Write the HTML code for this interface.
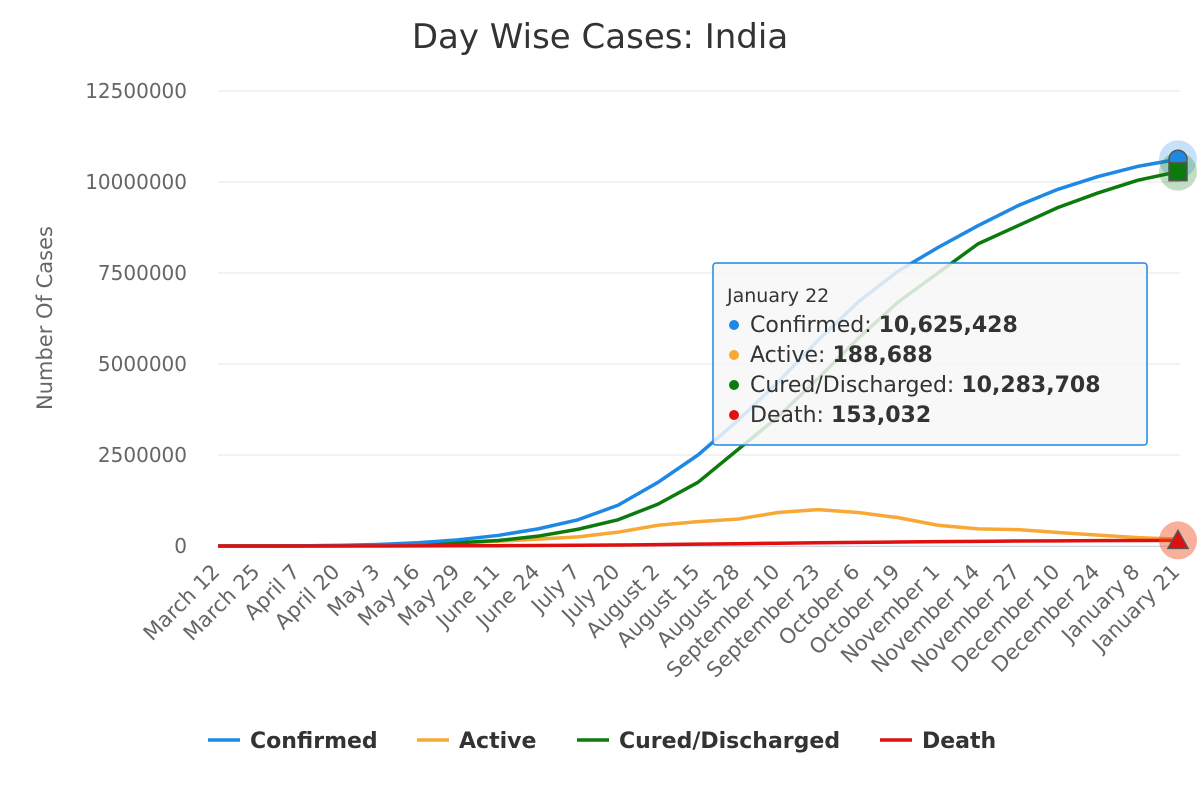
<!DOCTYPE html>
<html><head><meta charset="utf-8"><style>
body{margin:0;background:#fff;font-family:"Liberation Sans","DejaVu Sans",sans-serif}
svg{display:block}
</style></head><body>
<svg id="chart" width="1200" height="800">
<text x="600" y="48" text-anchor="middle" font-size="34" fill="#333" font-family="DejaVu Sans, sans-serif">Day Wise Cases: India</text>
<text transform="translate(52,318) rotate(-90)" text-anchor="middle" font-size="21" fill="#666" font-family="DejaVu Sans, sans-serif">Number Of Cases</text>
<g id="grid"></g><g id="xlabels"></g><g id="series"></g><g id="markers"></g>
<g>
<rect x="713" y="263" width="434" height="182" rx="3" fill="#f7f7f7" fill-opacity="0.85" stroke="#1e88e5" stroke-width="1.5"/>
<text x="727" y="302" font-size="19" fill="#333" font-family="DejaVu Sans, sans-serif">January 22</text>
<g font-size="22" fill="#333" font-family="DejaVu Sans, sans-serif">
<circle cx="734" cy="325" r="5" fill="#1e88e5"/><text x="750" y="332">Confirmed: <tspan font-weight="bold">10,625,428</tspan></text>
<circle cx="734" cy="355" r="5" fill="#f7a835"/><text x="750" y="362">Active: <tspan font-weight="bold">188,688</tspan></text>
<circle cx="734" cy="385" r="5" fill="#0d7a0d"/><text x="750" y="392">Cured/Discharged: <tspan font-weight="bold">10,283,708</tspan></text>
<circle cx="734" cy="415" r="5" fill="#e0100e"/><text x="750" y="422">Death: <tspan font-weight="bold">153,032</tspan></text>
</g></g>
<g font-size="22" font-weight="bold" fill="#333" font-family="DejaVu Sans, sans-serif">
<g><line x1="208" y1="740" x2="240" y2="740" stroke="#1e88e5" stroke-width="3.5"/><text x="250" y="748">Confirmed</text></g>
<g><line x1="417" y1="740" x2="449" y2="740" stroke="#f7a835" stroke-width="3.5"/><text x="459" y="748">Active</text></g>
<g><line x1="577" y1="740" x2="609" y2="740" stroke="#0d7a0d" stroke-width="3.5"/><text x="619" y="748">Cured/Discharged</text></g>
<g><line x1="880" y1="740" x2="912" y2="740" stroke="#e0100e" stroke-width="3.5"/><text x="922" y="748">Death</text></g>
</g>
</svg>
<script>
const categories=["March 12","March 25","April 7","April 20","May 3","May 16","May 29","June 11","June 24","July 7","July 20","August 2","August 15","August 28","September 10","September 23","October 6","October 19","November 1","November 14","November 27","December 10","December 24","January 8","January 21"];
const confirmed=[0,0,0.005,0.018,0.042,0.09,0.17,0.29,0.47,0.72,1.12,1.75,2.5,3.45,4.5,5.65,6.7,7.55,8.2,8.8,9.35,9.8,10.15,10.43,10.625];
const active=[0,0,0.005,0.014,0.029,0.048,0.08,0.13,0.19,0.25,0.38,0.57,0.67,0.74,0.92,1.0,0.92,0.78,0.57,0.47,0.45,0.37,0.3,0.23,0.189];
const cured=[0,0,0.0005,0.003,0.012,0.04,0.09,0.15,0.27,0.46,0.72,1.15,1.75,2.65,3.55,4.6,5.7,6.7,7.5,8.3,8.8,9.3,9.7,10.05,10.284];
const death=[0,0,0,0.0006,0.0014,0.0028,0.0052,0.0083,0.0146,0.02,0.028,0.038,0.05,0.063,0.077,0.09,0.1,0.11,0.12,0.128,0.136,0.142,0.147,0.151,0.153];
const yTicks=[0,2500000,5000000,7500000,10000000,12500000];
const NS="http://www.w3.org/2000/svg";
const x0=218,x1=1178,yb=546,yt=91;
function X(i){return x0+i*(x1-x0)/(categories.length-1);}
function Y(v){return yb-v/12500000*(yb-yt);}
function mk(t,a,p){const e=document.createElementNS(NS,t);for(const k in a)e.setAttribute(k,a[k]);p.appendChild(e);return e;}
const grid=document.getElementById('grid');
yTicks.forEach(v=>{
 const l=mk('line',{x1:x0,x2:1180,y1:Y(v),y2:Y(v),stroke:'#e6e6e6','stroke-width':1},grid);
 
 
 const t=mk('text',{x:187,y:Y(v)+7,'text-anchor':'end','font-size':20,fill:'#666','font-family':'DejaVu Sans, sans-serif'},grid);
 t.textContent=String(v);
 
 
});
mk('line',{x1:x0,x2:1180,y1:yb+0.5,y2:yb+0.5,stroke:'#ccd6eb','stroke-width':1},grid);
const xl=document.getElementById('xlabels');
categories.forEach((c,i)=>{
 const t=mk('text',{transform:`translate(${X(i)+3},${573}) rotate(-45)`,'text-anchor':'end','font-size':21,fill:'#666','font-family':'DejaVu Sans, sans-serif'},xl);
 t.textContent=c;
 
 
});
const sg=document.getElementById('series');
[[active,'#f7a835','active-line'],[cured,'#0d7a0d','cured-line'],[confirmed,'#1e88e5','confirmed-line'],[death,'#e0100e','death-line']].forEach(([d,c,n])=>{
 const p=mk('polyline',{points:d.map((v,i)=>X(i)+','+Y(v*1e6)).join(' '),fill:'none',stroke:c,'stroke-width':3.5,'stroke-linejoin':'round'},sg);
 
 
});
const mg=document.getElementById('markers');
const L=categories.length-1,xe=X(L);
mk('circle',{cx:xe,cy:Y(confirmed[L]*1e6),r:19,fill:'#1e88e5','fill-opacity':0.25},mg);
mk('circle',{cx:xe,cy:Y(cured[L]*1e6),r:19,fill:'#0d7a0d','fill-opacity':0.25},mg);
mk('circle',{cx:xe,cy:Y(death[L]*1e6),r:19,fill:'#f0501e','fill-opacity':0.45},mg);
const m1=mk('circle',{cx:xe,cy:Y(confirmed[L]*1e6),r:9,fill:'#1e88e5',stroke:'#555','stroke-width':1.5},mg);


const cy=Y(cured[L]*1e6);
const m2=mk('rect',{x:xe-9,y:cy-9,width:18,height:18,fill:'#0d7a0d',stroke:'#555','stroke-width':1.5},mg);


const dy=Y(death[L]*1e6);
const m3=mk('polygon',{points:`${xe},${dy-10} ${xe+10},${dy+8} ${xe-10},${dy+8}`,fill:'#e0100e',stroke:'#555','stroke-width':1.5},mg);


</script>
</body></html>
